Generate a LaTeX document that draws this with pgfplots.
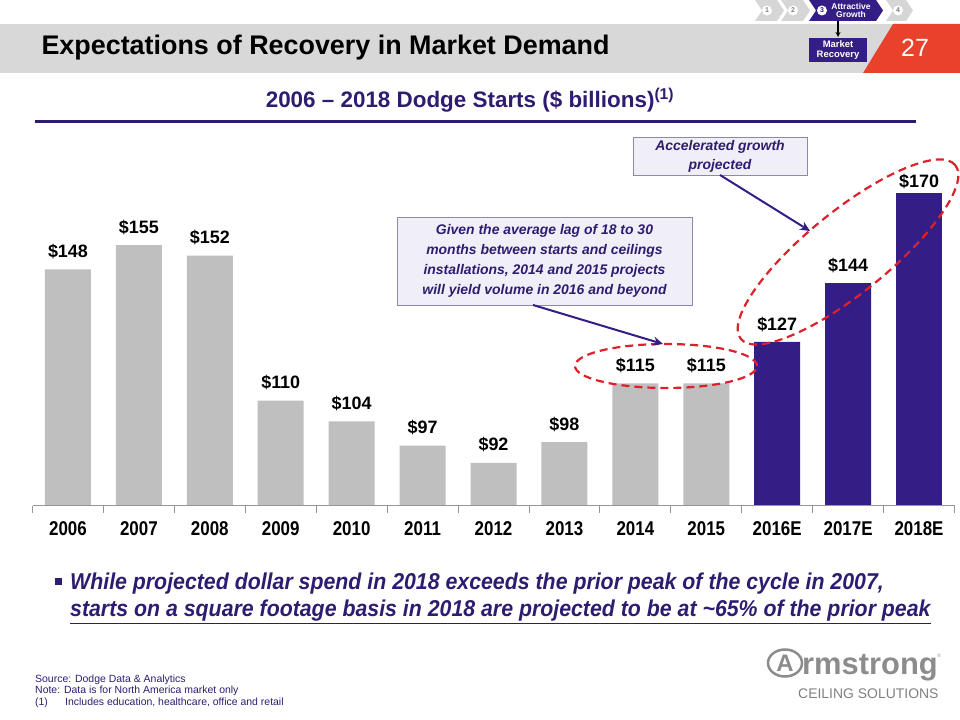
\documentclass[border=0pt]{standalone}
\usepackage{pgfplots}
\pgfplotsset{compat=1.18}
\usetikzlibrary{arrows.meta}
\usepackage{fontspec}
\setmainfont{Liberation Sans}
\newfontfamily\narrow[FakeStretch=0.85]{Liberation Sans}
\newfontfamily\bulletfont[FakeStretch=0.93]{Liberation Sans}
\definecolor{bargray}{RGB}{191,191,191}
\definecolor{barpurple}{RGB}{52,30,134}
\definecolor{txtpurple}{RGB}{46,28,112}
\definecolor{axisgray}{RGB}{150,150,150}
\definecolor{bandgray}{RGB}{216,216,216}
\definecolor{slidered}{RGB}{232,65,44}
\definecolor{dashred}{RGB}{222,32,42}
\definecolor{boxfill}{RGB}{240,239,247}
\definecolor{boxdraw}{RGB}{140,138,170}
\definecolor{logogray}{RGB}{140,140,140}
\definecolor{chevgray}{RGB}{214,214,214}
\begin{document}
\begin{tikzpicture}
% chart first, explicit units
\begin{axis}[at={(32.5bp,214bp)}, anchor=south west, width=922bp, height=355.8bp, scale only axis,
  xmin=-0.5, xmax=12.5, ymin=79.5, ymax=182.5,
  axis y line=none, axis x line*=bottom, axis on top,
  x axis line style={draw=axisgray, line width=1bp, -},
  xtick={0,...,12}, xticklabels={2006,2007,2008,2009,2010,2011,2012,2013,2014,2015,2016E,2017E,2018E},
  major tick length=0pt,
  minor xtick={-0.5,0.5,...,12.5}, minor tick length=7bp, tick align=outside,
  minor x tick style={draw=axisgray, line width=0.8bp},
  xticklabel style={font=\narrow\bfseries\fontsize{20}{22}\selectfont, yshift=-12bp},
  /pgf/number format/assume math mode=true,
  nodes near coords={\$\pgfmathprintnumber{\pgfplotspointmeta}},
  nodes near coords style={font=\bfseries\fontsize{18}{20}\selectfont, anchor=south, yshift=7bp},
]
\addplot[ybar, bar width=46bp, fill=bargray, draw=none] coordinates {(0,148)(1,155)(2,152)(3,110)(4,104)(5,97)(6,92)(7,98)(8,115)(9,115)};
\addplot[ybar, bar width=46bp, fill=barpurple, draw=none] coordinates {(10,127)(11,144)};
\addplot[ybar, bar width=46bp, fill=barpurple, draw=none, nodes near coords style={yshift=-6bp}] coordinates {(12,170)};
\end{axis}
\begin{scope}[x=1bp,y=1bp]
\path[use as bounding box] (0,0) rectangle (960,720);
% title band
\fill[bandgray] (0,696) rectangle (895,647);
\fill[slidered] (893,696) -- (960,696) -- (960,647) -- (863,647) -- cycle;
\node[anchor=west, font=\fontsize{27}{30}\selectfont\bfseries] at (38,672) {Expectations of Recovery in Market Demand};
\node[white, font=\fontsize{25}{28}\selectfont] at (915,672) {27};
% nav chevrons
\foreach \a/\b/\n in {755/777/1,781/803/2,886/906/4}{
  \fill[chevgray] (\a,720) -- (\b,720) -- (\b+7,709.5) -- (\b,699) -- (\a,699) -- (\a+7,709.5) -- cycle;
  \fill[white] (\a+12,709.5) circle (5);
  \node[font=\fontsize{7}{8}\selectfont\bfseries, text=gray] at (\a+12,709.5) {\n};
}
\fill[barpurple] (809,720) -- (876,720) -- (883,709.5) -- (876,699) -- (809,699) -- (816,709.5) -- cycle;
\fill[white] (822,709.5) circle (5);
\node[font=\fontsize{7}{8}\selectfont\bfseries, text=barpurple] at (822,709.5) {3};
\node[font=\fontsize{8.5}{8.5}\selectfont\bfseries, text=white, align=center, inner sep=0] at (851,709.5) {Attractive\\Growth};
\draw[-{Stealth[length=5bp,width=5bp]}, line width=1.2bp] (838,698.5) -- (838,683);
\fill[barpurple] (809,682) rectangle (867,658);
\node[font=\fontsize{9.5}{10.5}\selectfont\bfseries, text=white, align=center] at (838,670) {Market\\Recovery};
% subtitle
\node[font=\fontsize{22.5}{26}\selectfont\bfseries, text=txtpurple] at (470,620) {2006 – 2018 Dodge Starts (\$ billions)\textsuperscript{(1)}};
\draw[txtpurple, line width=3bp] (35,598) -- (916,598);
% annotations
\draw[dashred, line width=2.2bp, dash pattern=on 8bp off 5bp] (666,354) ellipse [x radius=91, y radius=22];
\draw[dashred, line width=2.2bp, dash pattern=on 8bp off 5bp, rotate around={39:(848,468)}] (848,468) ellipse [x radius=138, y radius=41];
\draw[fill=boxfill, draw=boxdraw, line width=0.8bp] (397,503) rectangle (692,415);
\node[font=\fontsize{14}{20}\selectfont\bfseries\itshape, text=txtpurple, align=center] at (544.5,459) {Given the average lag of 18 to 30\\months between starts and ceilings\\installations, 2014 and 2015 projects\\will yield volume in 2016 and beyond};
\draw[fill=boxfill, draw=boxdraw, line width=0.8bp] (633,583) rectangle (807,545);
\node[font=\fontsize{14}{19}\selectfont\bfseries\itshape, text=txtpurple, align=center] at (720,564) {Accelerated growth\\projected};
\draw[barpurple, line width=2bp, -{Stealth[length=10bp,width=9bp]}] (533,415) -- (663,376);
\draw[barpurple, line width=2bp, -{Stealth[length=10bp,width=9bp]}] (720,545) -- (810,489);
% bullet
\fill[txtpurple] (54.5,134.5) rectangle (61.5,141.5);
\node[anchor=base west, inner sep=0, font=\bulletfont\bfseries\itshape\fontsize{23}{26}\selectfont, text=txtpurple] at (70,130) {While projected dollar spend in 2018 exceeds the prior peak of the cycle in 2007,};
\node[anchor=base west, inner sep=0, font=\bulletfont\bfseries\itshape\fontsize{23}{26}\selectfont, text=txtpurple] at (70,103) {\underline{starts on a square footage basis in 2018 are projected to be at \textasciitilde65\% of the prior peak}};
% footnotes
\begin{scope}[every node/.style={anchor=base west, inner sep=0, font=\fontsize{10.5}{12}\selectfont, text=txtpurple}]
\node at (35,37) {Source: Dodge Data \& Analytics};
\node at (35,26) {Note: Data is for North America market only};
\node at (35,14) {(1)};
\node at (65,14) {Includes education, healthcare, office and retail};
\end{scope}
% logo
\draw[logogray, line width=2.5bp] (785,57) ellipse [x radius=17, y radius=13.5];
\node[logogray, font=\fontsize{24}{24}\selectfont\bfseries] at (785,57) {A};
\node[anchor=base west, inner sep=0, logogray, font=\fontsize{31}{31}\selectfont\bfseries] at (802,45) {rmstrong};
\node[anchor=base west, inner sep=0, logogray, font=\fontsize{5}{5}\selectfont] at (937,62) {®};
\node[anchor=base west, inner sep=0, text=gray, font=\fontsize{14}{14}\selectfont] at (798,21) {CEILING SOLUTIONS};
\end{scope}
\end{tikzpicture}
\end{document}
